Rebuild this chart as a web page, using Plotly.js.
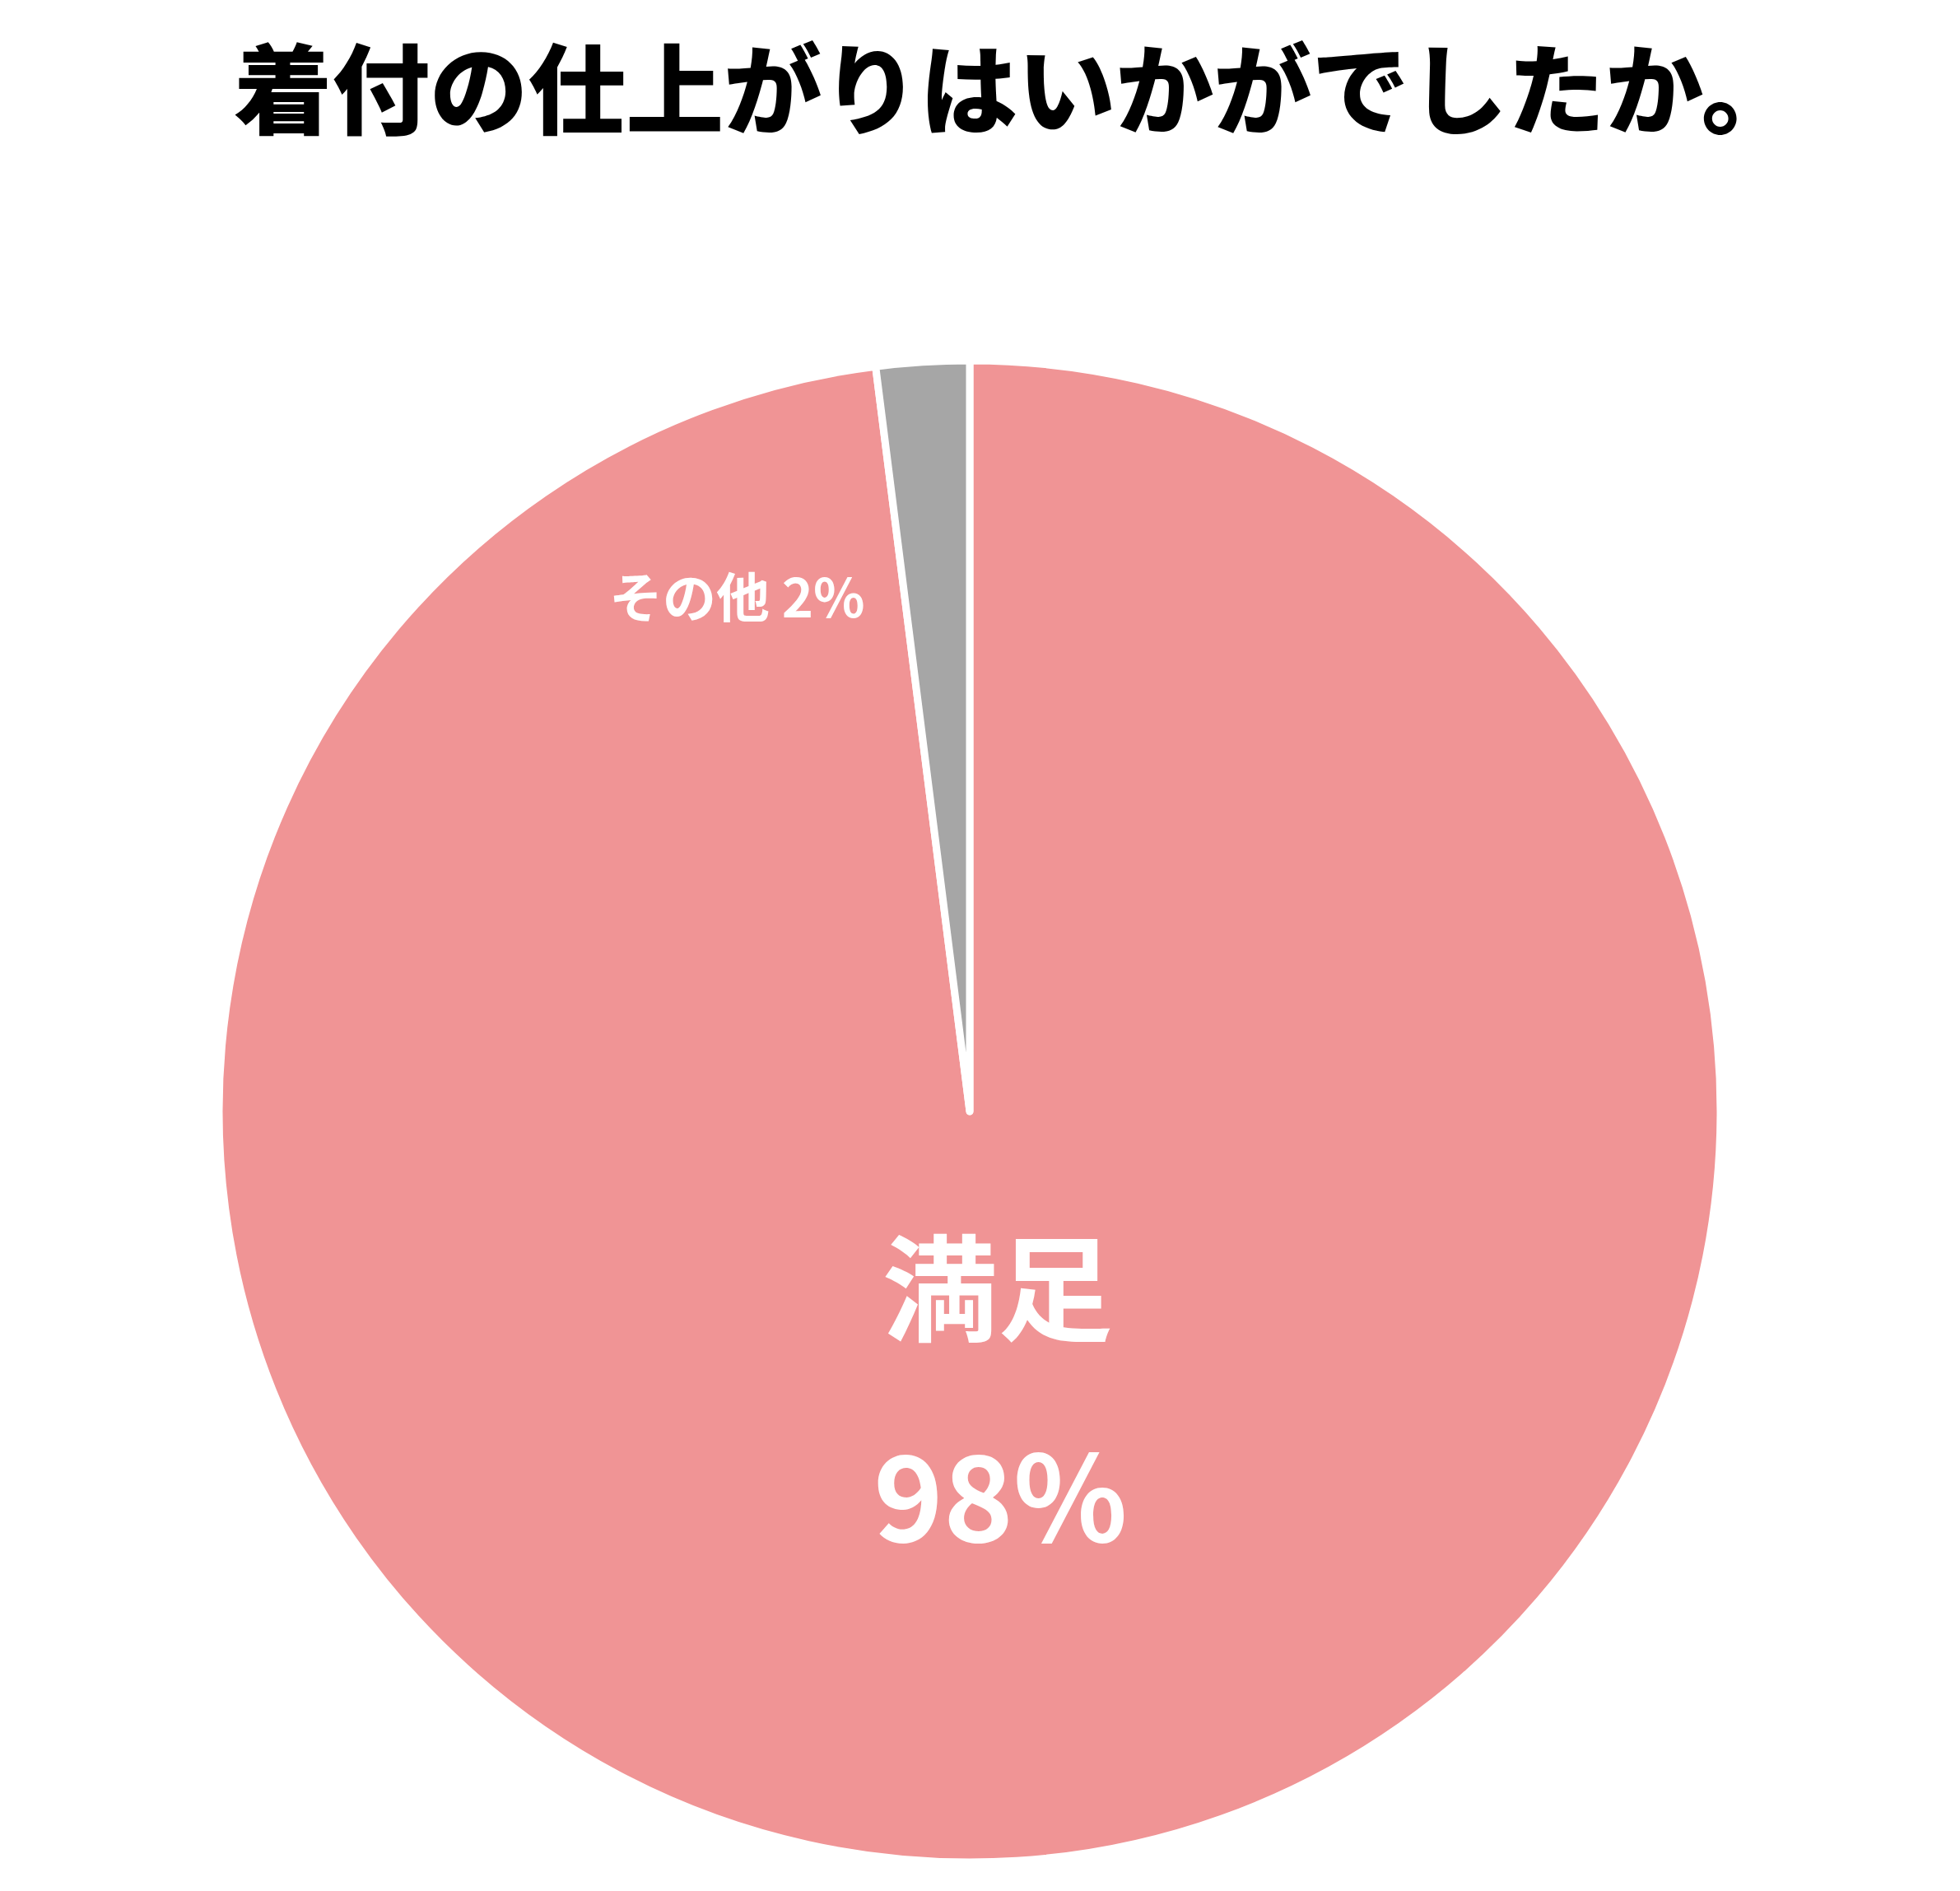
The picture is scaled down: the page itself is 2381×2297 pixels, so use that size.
<!DOCTYPE html>
<html>
<head>
<meta charset="utf-8">
<script src="https://cdn.plot.ly/plotly-3.0.1.min.js"></script>
<style>
  html, body { margin: 0; padding: 0; background: #ffffff; }
  #chart { width: 2381px; height: 2297px; }
</style>
</head>
<body>
<div id="chart"></div>
<script>
// Survey answers: how satisfied were customers with their kimono dressing
const chartTitle = '着付の仕上がりはいかがでしたか。';
const categories = ['満足', 'その他'];
const shares = [98, 2];
const sliceColors = ['#F09495', '#A6A6A6'];

const W = 2381, H = 2297;
const FONT = '"Noto Sans CJK JP", "Noto Sans", sans-serif';

// Pie geometry in pixels (centre and radius), converted to paper domain
const cx = 1178, cy = 1350, r = 912;

const trace = {
  type: 'pie',
  labels: categories,
  values: shares,
  sort: false,
  direction: 'clockwise',
  rotation: 0,
  textinfo: 'none',
  hoverinfo: 'label+percent',
  marker: { colors: sliceColors, line: { color: '#ffffff', width: 9 } },
  domain: {
    x: [(cx - r) / W, (cx + r) / W],
    y: [(H - cy - r) / H, (H - cy + r) / H]
  },
  showlegend: false
};

const labelFont = (size) => ({ family: FONT, size: size, color: '#ffffff', weight: 700 });

const annotations = [
  { text: categories[0], x: 1212 / W, y: 1 - 1557 / H, font: labelFont(140) },
  { text: shares[0] + '%', x: 1215 / W, y: 1 - 1810 / H, font: labelFont(144) },
  { text: categories[1] + ' ' + shares[1] + '%', x: 895 / W, y: 1 - 722 / H, font: labelFont(65) }
].map(a => Object.assign({ xref: 'paper', yref: 'paper', xanchor: 'center', yanchor: 'middle', showarrow: false }, a));

const layout = {
  width: W,
  height: H,
  margin: { l: 0, r: 0, t: 0, b: 0 },
  paper_bgcolor: '#ffffff',
  title: {
    text: chartTitle,
    x: 1235 / W,
    xanchor: 'center',
    y: 1 - 112 / H,
    yanchor: 'middle',
    font: { family: FONT, size: 119, color: '#000000', weight: 900 }
  },
  annotations: annotations
};

Plotly.newPlot('chart', [trace], layout, { displayModeBar: false, staticPlot: true });
</script>
</body>
</html>
